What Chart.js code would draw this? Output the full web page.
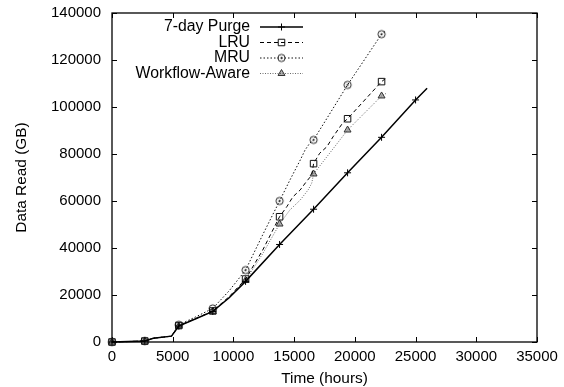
<!DOCTYPE html>
<html>
<head>
<meta charset="utf-8">
<style>
  body { margin: 0; background: #fff; }
  #wrap { width: 564px; height: 387px; }
</style>
</head>
<body>
<div id="wrap"><canvas id="readChart" width="564" height="387"></canvas></div>
<script src="https://cdn.jsdelivr.net/npm/chart.js"></script>
<script>
    // hours at which each curve carries a point symbol
    const markedHours = [0, 2700, 5500, 8300, 11000, 13800, 16600, 19400, 22200, 25000];

    const purgeHours = [0, 2700, 3400, 4900, 5500, 6900, 8300, 9650, 11000, 13800, 16600, 19400, 22200, 25000, 25950];
    const purgeGB = [0, 400, 1600, 2500, 6800, 9900, 13000, 18800, 25800, 41500, 56500, 72000, 87100, 103000, 108000];

    const lruHours = [0, 2700, 3400, 4900, 5500, 6900, 8300, 9650, 11000, 12400, 13800, 14400, 14900, 15500, 16000, 16450, 16600, 17100, 17700, 18200, 19000, 19400, 22200, 22550];
    const lruGB = [0, 400, 1600, 2500, 7000, 10000, 13200, 19300, 26800, 39000, 53300, 57600, 61800, 64700, 68200, 71000, 75900, 80300, 83100, 87300, 93200, 95000, 110800, 112200];

    const mruHours = [0, 2700, 3400, 4900, 5500, 6900, 8300, 9650, 11000, 12400, 13800, 14650, 15500, 15900, 16300, 16600, 19400, 22200, 22550];
    const mruGB = [0, 400, 1600, 2500, 7300, 10700, 14300, 21800, 30600, 45500, 60000, 68900, 77400, 81700, 84700, 86000, 109400, 131000, 132400];

    const waHours = [0, 2700, 3400, 4900, 5500, 6900, 8300, 9650, 11000, 12400, 13800, 14650, 15500, 16150, 16450, 16600, 19400, 22200, 22650];
    const waGB = [0, 400, 1600, 2500, 6800, 9900, 13000, 19000, 26200, 37500, 50200, 56200, 60400, 64700, 67600, 71500, 90200, 104700, 106000];

    const FONT = '"Liberation Sans", Arial, Helvetica, sans-serif';

    const toPoints = (hours, values) => hours.map((h, i) => ({ x: h, y: values[i] }));

    // circle with a dot in the middle
    const dotCircle = (() => {
        const c = document.createElement('canvas');
        c.width = 11; c.height = 11;
        const g = c.getContext('2d');
        g.strokeStyle = '#222';
        g.lineWidth = 1;
        g.beginPath(); g.arc(5.5, 5.5, 3.6, 0, Math.PI * 2); g.stroke();
        g.fillStyle = '#222';
        g.beginPath(); g.arc(5.5, 5.5, 1.1, 0, Math.PI * 2); g.fill();
        return c;
    })();

    const markRadius = (r) => (ctx) => (ctx.raw && markedHours.includes(ctx.raw.x)) ? r : 0;

    const datasets = [
        {
            label: '7-day Purge',
            data: toPoints(purgeHours, purgeGB),
            borderColor: '#000', borderWidth: 1.5, borderDash: [],
            pointStyle: 'cross', pointRadius: markRadius(3.5), legendRadius: 3.5,
            pointBorderColor: '#000', pointBackgroundColor: '#000', pointBorderWidth: 1
        },
        {
            label: 'LRU',
            data: toPoints(lruHours, lruGB),
            borderColor: '#000', borderWidth: 1, borderDash: [4, 3],
            pointStyle: 'rect', pointRadius: markRadius(4.6), legendRadius: 4.6,
            pointBorderColor: '#111', pointBackgroundColor: 'rgba(255,255,255,0)', pointBorderWidth: 1
        },
        {
            label: 'MRU',
            data: toPoints(mruHours, mruGB),
            borderColor: '#111', borderWidth: 1, borderDash: [1.5, 2],
            pointStyle: dotCircle, pointRadius: markRadius(4), legendRadius: 4,
            pointBorderColor: '#222', pointBackgroundColor: 'rgba(255,255,255,0)', pointBorderWidth: 1
        },
        {
            label: 'Workflow-Aware',
            data: toPoints(waHours, waGB),
            borderColor: '#6a6a6a', borderWidth: 1, borderDash: [1, 1.5],
            pointStyle: 'triangle', pointRadius: markRadius(4), legendRadius: 4,
            pointBorderColor: '#333', pointBackgroundColor: 'rgba(80,80,80,0.45)', pointBorderWidth: 1
        }
    ];

    // frame plus inward tick marks on all four sides
    const framePlugin = {
        id: 'frame',
        beforeDatasetsDraw(chart) {
            const { ctx, chartArea: a, scales: { x, y } } = chart;
            ctx.save();
            ctx.strokeStyle = '#000';
            ctx.lineWidth = 1.3;
            ctx.strokeRect(a.left, a.top, a.right - a.left, a.bottom - a.top);
            ctx.lineWidth = 1;
            ctx.beginPath();
            x.ticks.forEach(t => {
                const px = Math.round(x.getPixelForValue(t.value)) + 0.5;
                ctx.moveTo(px, a.bottom); ctx.lineTo(px, a.bottom - 5);
                ctx.moveTo(px, a.top); ctx.lineTo(px, a.top + 5);
            });
            y.ticks.forEach(t => {
                const py = Math.round(y.getPixelForValue(t.value)) + 0.5;
                ctx.moveTo(a.left, py); ctx.lineTo(a.left + 5, py);
                ctx.moveTo(a.right, py); ctx.lineTo(a.right - 5, py);
            });
            ctx.stroke();
            ctx.restore();
        }
    };

    // key: text right-aligned, then a sample of the line with its symbol
    const keyPlugin = {
        id: 'key',
        afterDatasetsDraw(chart) {
            const { ctx } = chart;
            const textRight = 250, lineFrom = 260, lineTo = 303, rowTop = 27, rowStep = 15.5;
            ctx.save();
            chart.data.datasets.forEach((ds, i) => {
                const yy = rowTop + i * rowStep;
                ctx.font = '15.8px ' + FONT;
                ctx.fillStyle = '#000';
                ctx.textAlign = 'right';
                ctx.textBaseline = 'middle';
                ctx.fillText(ds.label, textRight, yy);
                ctx.strokeStyle = ds.borderColor;
                ctx.lineWidth = ds.borderWidth;
                ctx.setLineDash(ds.borderDash);
                ctx.beginPath();
                ctx.moveTo(lineFrom, yy); ctx.lineTo(lineTo, yy);
                ctx.stroke();
                ctx.setLineDash([]);
                ctx.strokeStyle = ds.pointBorderColor;
                ctx.fillStyle = ds.pointBackgroundColor;
                ctx.lineWidth = ds.pointBorderWidth;
                Chart.helpers.drawPoint(ctx, {
                    pointStyle: ds.pointStyle, radius: ds.legendRadius,
                    borderWidth: ds.pointBorderWidth, rotation: 0
                }, (lineFrom + lineTo) / 2, yy);
            });
            ctx.restore();
        }
    };

    const tickFont = { family: FONT, size: 15 };
    const titleFont = { family: FONT, size: 15.4 };

    new Chart(document.getElementById('readChart').getContext('2d'), {
        type: 'line',
        data: { datasets },
        options: {
            responsive: false,
            animation: false,
            events: [],
            clip: false,
            layout: { padding: { top: 13, right: 27, left: 0, bottom: 0 } },
            elements: { line: { tension: 0, fill: false }, point: { hoverRadius: 0 } },
            plugins: { legend: { display: false }, tooltip: { enabled: false } },
            scales: {
                x: {
                    type: 'linear', min: 0, max: 35000,
                    grid: { display: false, drawTicks: false },
                    border: { display: false },
                    ticks: { stepSize: 5000, padding: 6, color: '#000', font: tickFont, maxRotation: 0, callback: v => String(v) },
                    title: { display: true, text: 'Time (hours)', color: '#000', font: titleFont, padding: { top: 0, bottom: -1 } },
                    afterFit: s => { s.height = 45; s.paddingLeft = 0; s.paddingRight = 0; }
                },
                y: {
                    type: 'linear', min: 0, max: 140000,
                    grid: { display: false, drawTicks: false },
                    border: { display: false },
                    ticks: { stepSize: 20000, padding: 11, color: '#000', font: tickFont, callback: v => String(v) },
                    title: { display: true, text: 'Data Read (GB)', color: '#000', font: titleFont, padding: { top: 13, bottom: 0 } },
                    afterFit: s => { s.width = 112; s.paddingTop = 0; s.paddingBottom = 0; }
                }
            }
        },
        plugins: [framePlugin, keyPlugin]
    });
</script>
</body>
</html>
